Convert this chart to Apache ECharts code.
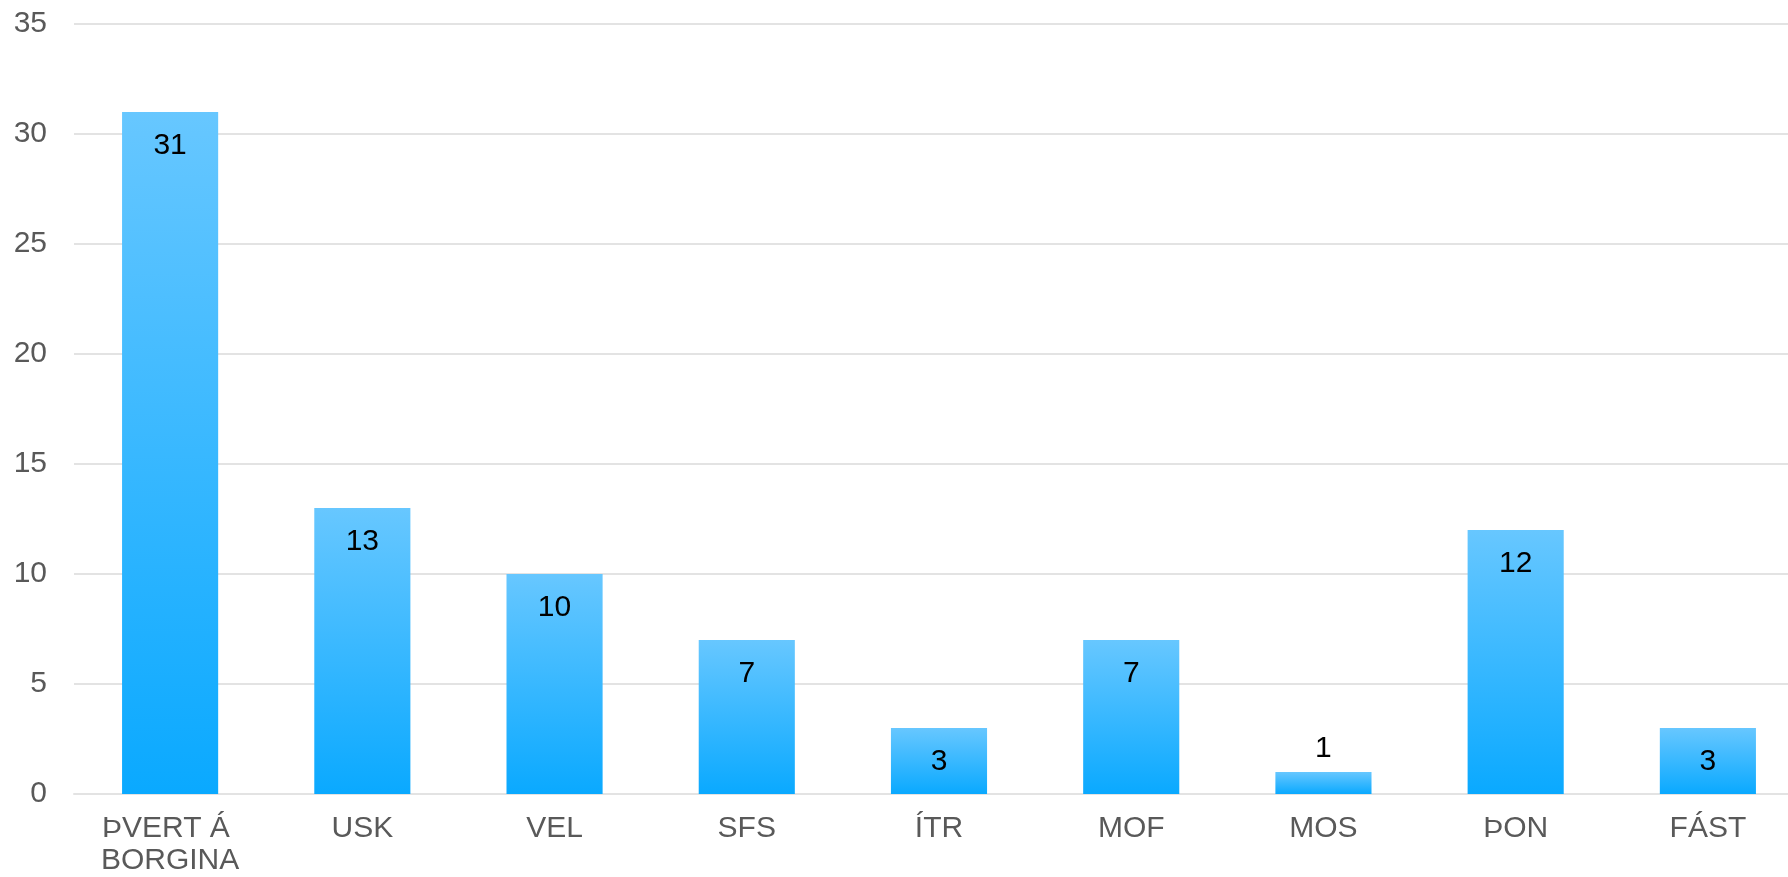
<!DOCTYPE html>
<html>
<head>
<meta charset="utf-8">
<script src="https://cdn.jsdelivr.net/npm/echarts@6/dist/echarts.min.js"></script>
<style>
  html, body { margin: 0; padding: 0; background: #fff; overflow: hidden; }
  /* the original is cut off at the right, so the chart is a bit wider than the window */
  #chart { width: 1804px; height: 877px; }
</style>
</head>
<body>
<div id="chart"></div>
<script>
var categories = ["ÞVERT Á BORGINA", "USK", "VEL", "SFS", "ÍTR", "MOF", "MOS", "ÞON", "FÁST"];
var values = [31, 13, 10, 7, 3, 7, 1, 12, 3];

var font = "'Liberation Sans', Arial, sans-serif";

var chart = echarts.init(document.getElementById("chart"));

// bars too short for the number get it on top
var seriesData = values.map(function (v) {
    if (v < 2) {
        return { value: v, label: { position: "top", distance: 8 } };
    }
    return v;
});

var option = {
    animation: false,
    grid: {
        left: 74,
        top: 24,
        right: 0,
        bottom: 82
    },
    xAxis: {
        type: "category",
        data: categories,
        axisTick: { show: false },
        axisLine: { lineStyle: { color: "#e3e3e3", width: 2 } },
        axisLabel: {
            interval: 0,
            margin: 19,
            color: "#595959",
            fontFamily: font,
            fontSize: 30,
            lineHeight: 32,
            width: 185,
            overflow: "break"
        }
    },
    yAxis: {
        type: "value",
        min: 0,
        max: 35,
        interval: 5,
        axisLine: { show: false },
        axisTick: { show: false },
        axisLabel: {
            margin: 27,
            color: "#595959",
            fontFamily: font,
            fontSize: 30
        },
        splitLine: { lineStyle: { color: "#e3e3e3", width: 2 } }
    },
    series: [{
        type: "bar",
        data: seriesData,
        barWidth: "50%",
        itemStyle: {
            color: new echarts.graphic.LinearGradient(0, 0, 0, 1, [
                { offset: 0, color: "#67c7ff" },
                { offset: 1, color: "#0aa9ff" }
            ])
        },
        label: {
            show: true,
            position: "insideTop",
            distance: 19,
            color: "#000",
            fontFamily: font,
            fontSize: 30
        }
    }]
};

chart.setOption(option);
</script>
</body>
</html>
